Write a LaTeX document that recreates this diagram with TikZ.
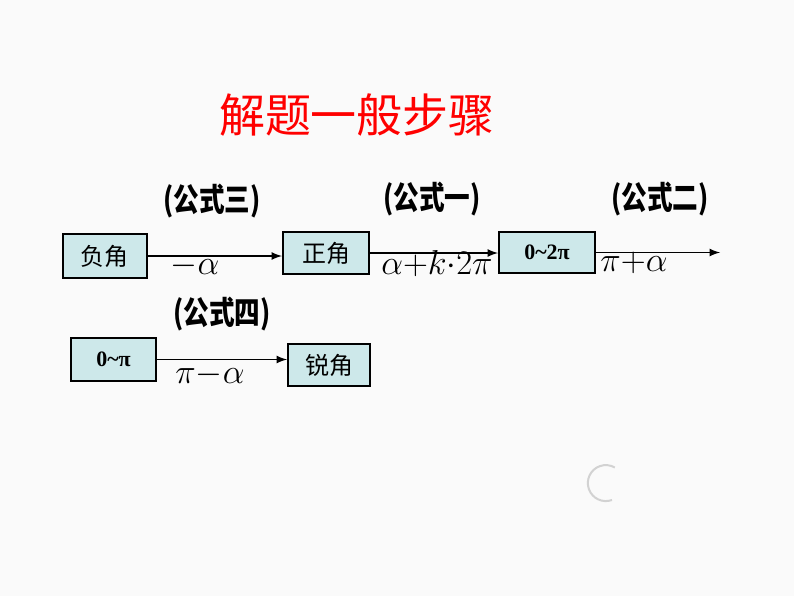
\documentclass[tikz,border=0pt]{standalone}
\usepackage{fontspec}
\newfontfamily\cjk{Noto Sans CJK SC}
\setmainfont{Liberation Serif}
\definecolor{boxfill}{HTML}{CDE8EA}
\begin{document}
\begin{tikzpicture}[x=0.5pt,y=-0.5pt,
  bx/.style={draw=black,line width=1pt,fill=boxfill,inner sep=0pt,anchor=north west},
  lab/.style={font=\bfseries\fontsize{16}{16}\selectfont\cjk,xscale=0.8},
  ml/.style={font=\fontsize{19}{19}\selectfont},
  arr/.style={-latex,line width=0.8pt}]
\useasboundingbox[fill=gray!4] (0,0) rectangle (794,596);
\node[text=red,font=\fontsize{23}{23}\selectfont\cjk] (t) at (357,115) {解题一般步骤};
\node[bx,minimum width=42pt,minimum height=22pt,font=\fontsize{12}{12}\selectfont\cjk] (a) at (62,233) {负角};
\node[bx,minimum width=43pt,minimum height=21pt,font=\fontsize{12}{12}\selectfont\cjk] (b) at (282,231) {正角};
\node[bx,minimum width=48pt,minimum height=20.5pt,font=\bfseries\fontsize{11}{11}\selectfont] (c) at (498,231) {0\textasciitilde 2π};
\node[bx,minimum width=42.5pt,minimum height=21.5pt,font=\bfseries\fontsize{11}{11}\selectfont] (d) at (70,337) {0\textasciitilde π};
\node[bx,minimum width=41pt,minimum height=21pt,font=\fontsize{12}{12}\selectfont\cjk] (e) at (287,343) {锐角};
\coordinate (f) at (720,250);
\draw[arr] (a.east) -- (a.east -| b.west);
\draw[arr] (b.east) -- (b.east -| c.west);
\draw[arr] (c.east) -- (c.east -| f);
\draw[arr] (d.east) -- (d.east -| e.west);
\node[lab] (l1) at (212,201) {(公式三)};
\node[lab] (l2) at (432,199) {(公式一)};
\node[lab] (l3) at (660,199) {(公式二)};
\node[lab] (l4) at (222,314) {(公式四)};
\node[ml] (k1) at (195,266) {$-\alpha$};
\node[ml] (k2) at (437,264) {$\alpha{+}k{\cdot}2\pi$};
\node[ml] (k3) at (634,263) {$\pi{+}\alpha$};
\node[ml] (k4) at (210,375) {$\pi{-}\alpha$};
\draw[gray!35,line width=1pt] (612,500) arc (70:300:18);
\end{tikzpicture}
\end{document}
